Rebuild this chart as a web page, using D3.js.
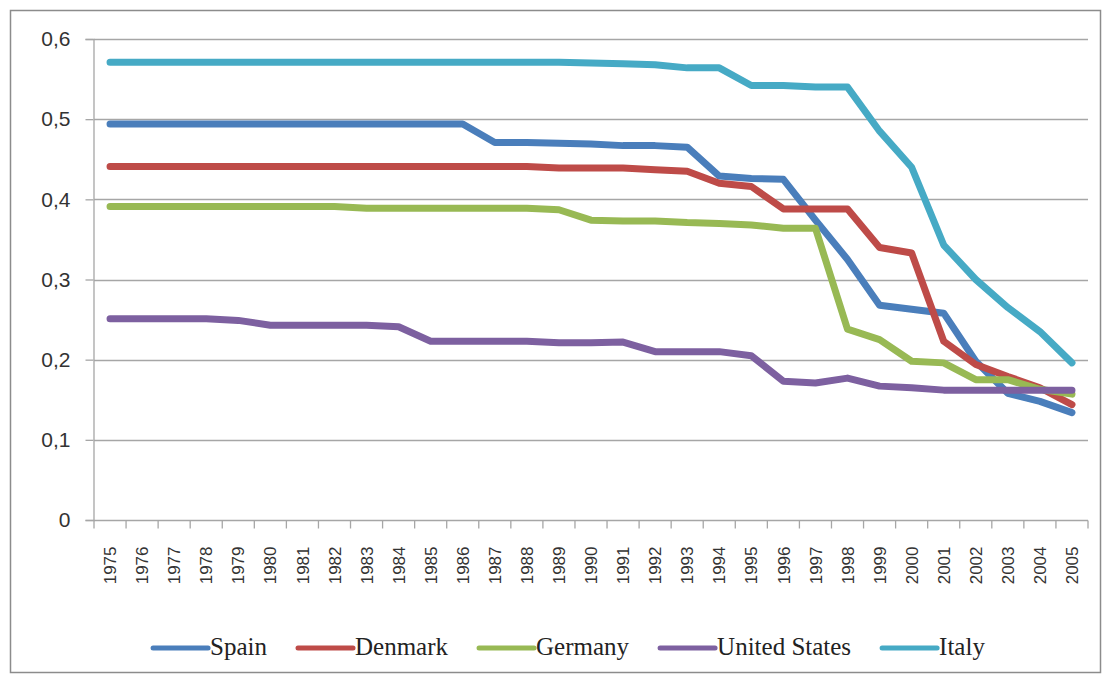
<!DOCTYPE html>
<html>
<head>
<meta charset="utf-8">
<script src="https://cdn.jsdelivr.net/npm/d3@7"></script>
<style>
  html, body { margin: 0; padding: 0; background: #ffffff; }
  svg { display: block; }
</style>
</head>
<body>
<svg id="chart" width="1109" height="679"></svg>
<script>
const years = ["1975","1976","1977","1978","1979","1980","1981","1982","1983","1984","1985","1986","1987","1988","1989","1990","1991","1992","1993","1994","1995","1996","1997","1998","1999","2000","2001","2002","2003","2004","2005"];

const spain   = [0.494,0.494,0.494,0.494,0.494,0.494,0.494,0.494,0.494,0.494,0.494,0.494,0.471,0.471,0.470,0.469,0.467,0.467,0.465,0.429,0.426,0.425,0.374,0.325,0.268,0.263,0.258,0.198,0.158,0.148,0.134];
const denmark = [0.441,0.441,0.441,0.441,0.441,0.441,0.441,0.441,0.441,0.441,0.441,0.441,0.441,0.441,0.439,0.439,0.439,0.437,0.435,0.420,0.416,0.388,0.388,0.388,0.340,0.333,0.223,0.194,0.179,0.165,0.144];
const germany = [0.391,0.391,0.391,0.391,0.391,0.391,0.391,0.391,0.389,0.389,0.389,0.389,0.389,0.389,0.387,0.374,0.373,0.373,0.371,0.370,0.368,0.364,0.364,0.238,0.225,0.198,0.196,0.175,0.175,0.163,0.157];
const unitedStates = [0.251,0.251,0.251,0.251,0.249,0.243,0.243,0.243,0.243,0.241,0.223,0.223,0.223,0.223,0.221,0.221,0.222,0.210,0.210,0.210,0.205,0.173,0.171,0.177,0.167,0.165,0.162,0.162,0.162,0.162,0.162];
const italy   = [0.571,0.571,0.571,0.571,0.571,0.571,0.571,0.571,0.571,0.571,0.571,0.571,0.571,0.571,0.571,0.570,0.569,0.568,0.564,0.564,0.542,0.542,0.540,0.540,0.485,0.440,0.343,0.300,0.265,0.235,0.196];

const seriesNames = ["Spain","Denmark","Germany","United States","Italy"];
const seriesColors = ["#4a7ebb","#be4b48","#98b954","#7d60a0","#46aac5"];
const seriesValues = [spain, denmark, germany, unitedStates, italy];

const yTickValues = [0, 0.1, 0.2, 0.3, 0.4, 0.5, 0.6];

const svg = d3.select("#chart");

// outer border
svg.append("rect")
  .attr("x", 10.5).attr("y", 10.5)
  .attr("width", 1090).attr("height", 662)
  .attr("fill", "#ffffff")
  .attr("stroke", "#8c8c8c")
  .attr("stroke-width", 1.5);

const plot = { left: 94, right: 1088, top: 39, bottom: 520 };

const x = d3.scaleBand().domain(years).range([plot.left, plot.right]).padding(0);
const y = d3.scaleLinear().domain([0, 0.6]).range([plot.bottom, plot.top]);

const loc = d3.formatLocale({ decimal: ",", thousands: ".", grouping: [3], currency: ["", ""] });
const fmt = v => v === 0 ? "0" : loc.format(".1f")(v);

// gridlines
svg.append("g")
  .selectAll("line")
  .data(yTickValues.filter(v => v > 0))
  .join("line")
  .attr("x1", plot.left).attr("x2", plot.right)
  .attr("y1", d => Math.round(y(d)) + 0.5).attr("y2", d => Math.round(y(d)) + 0.5)
  .attr("stroke", "#a6a6a6").attr("stroke-width", 1.3);

// y axis
const yAxis = svg.append("g")
  .attr("transform", `translate(${plot.left - 0.5},0)`)
  .call(d3.axisLeft(y).tickValues(yTickValues).tickFormat(fmt).tickSize(8).tickPadding(15));
yAxis.select(".domain").attr("stroke", "#a6a6a6").attr("stroke-width", 1.3);
yAxis.selectAll(".tick line").attr("stroke", "#a6a6a6").attr("stroke-width", 1.3);
yAxis.selectAll(".tick text")
  .attr("font-family", "'Liberation Sans', Arial, sans-serif")
  .attr("font-size", 21)
  .attr("fill", "#333333");

// x axis (ticks between categories)
const xAxisG = svg.append("g").attr("transform", `translate(0,${plot.bottom + 0.5})`);
xAxisG.append("line")
  .attr("x1", plot.left).attr("x2", plot.right)
  .attr("y1", 0).attr("y2", 0)
  .attr("stroke", "#a6a6a6").attr("stroke-width", 1.3);
const boundaries = years.map(d => x(d)).concat([x(years[years.length - 1]) + x.bandwidth()]);
xAxisG.selectAll("line.tk")
  .data(boundaries)
  .join("line")
  .attr("class", "tk")
  .attr("x1", d => d).attr("x2", d => d)
  .attr("y1", 0).attr("y2", 8)
  .attr("stroke", "#a6a6a6").attr("stroke-width", 1.3);
xAxisG.selectAll("text")
  .data(years)
  .join("text")
  .attr("transform", d => `translate(${x(d) + x.bandwidth() / 2},${26}) rotate(-90)`)
  .attr("text-anchor", "end")
  .attr("dy", "0.36em")
  .attr("font-family", "'Liberation Sans', Arial, sans-serif")
  .attr("font-size", 17)
  .attr("fill", "#333333")
  .text(d => d);

// lines
const line = d3.line()
  .x((d, i) => x(years[i]) + x.bandwidth() / 2)
  .y(d => y(d));

svg.append("g")
  .selectAll("path")
  .data(seriesValues)
  .join("path")
  .attr("d", d => line(d))
  .attr("fill", "none")
  .attr("stroke", (d, i) => seriesColors[i])
  .attr("stroke-width", 7)
  .attr("stroke-linecap", "round")
  .attr("stroke-linejoin", "round");

// legend
const legend = svg.append("g").attr("transform", "translate(0,648)");
const items = legend.selectAll("g")
  .data(seriesNames)
  .join("g");
items.append("line")
  .attr("x1", 0).attr("x2", 55)
  .attr("y1", 0).attr("y2", 0)
  .attr("stroke", (d, i) => seriesColors[i])
  .attr("stroke-width", 5)
  .attr("stroke-linecap", "round");
items.append("text")
  .attr("x", 57)
  .attr("y", 7)
  .attr("font-family", "'Liberation Serif', 'Times New Roman', serif")
  .attr("font-size", 25)
  .attr("fill", "#222222")
  .text(d => d);

let widths = [];
items.each(function () {
  widths.push(57 + d3.select(this).select("text").node().getComputedTextLength());
});
const gap = 31;
const total = d3.sum(widths) + gap * (widths.length - 1);
let cx = 569 - total / 2;
items.each(function (d, i) {
  d3.select(this).attr("transform", `translate(${cx},0)`);
  cx += widths[i] + gap;
});
</script>
</body>
</html>
